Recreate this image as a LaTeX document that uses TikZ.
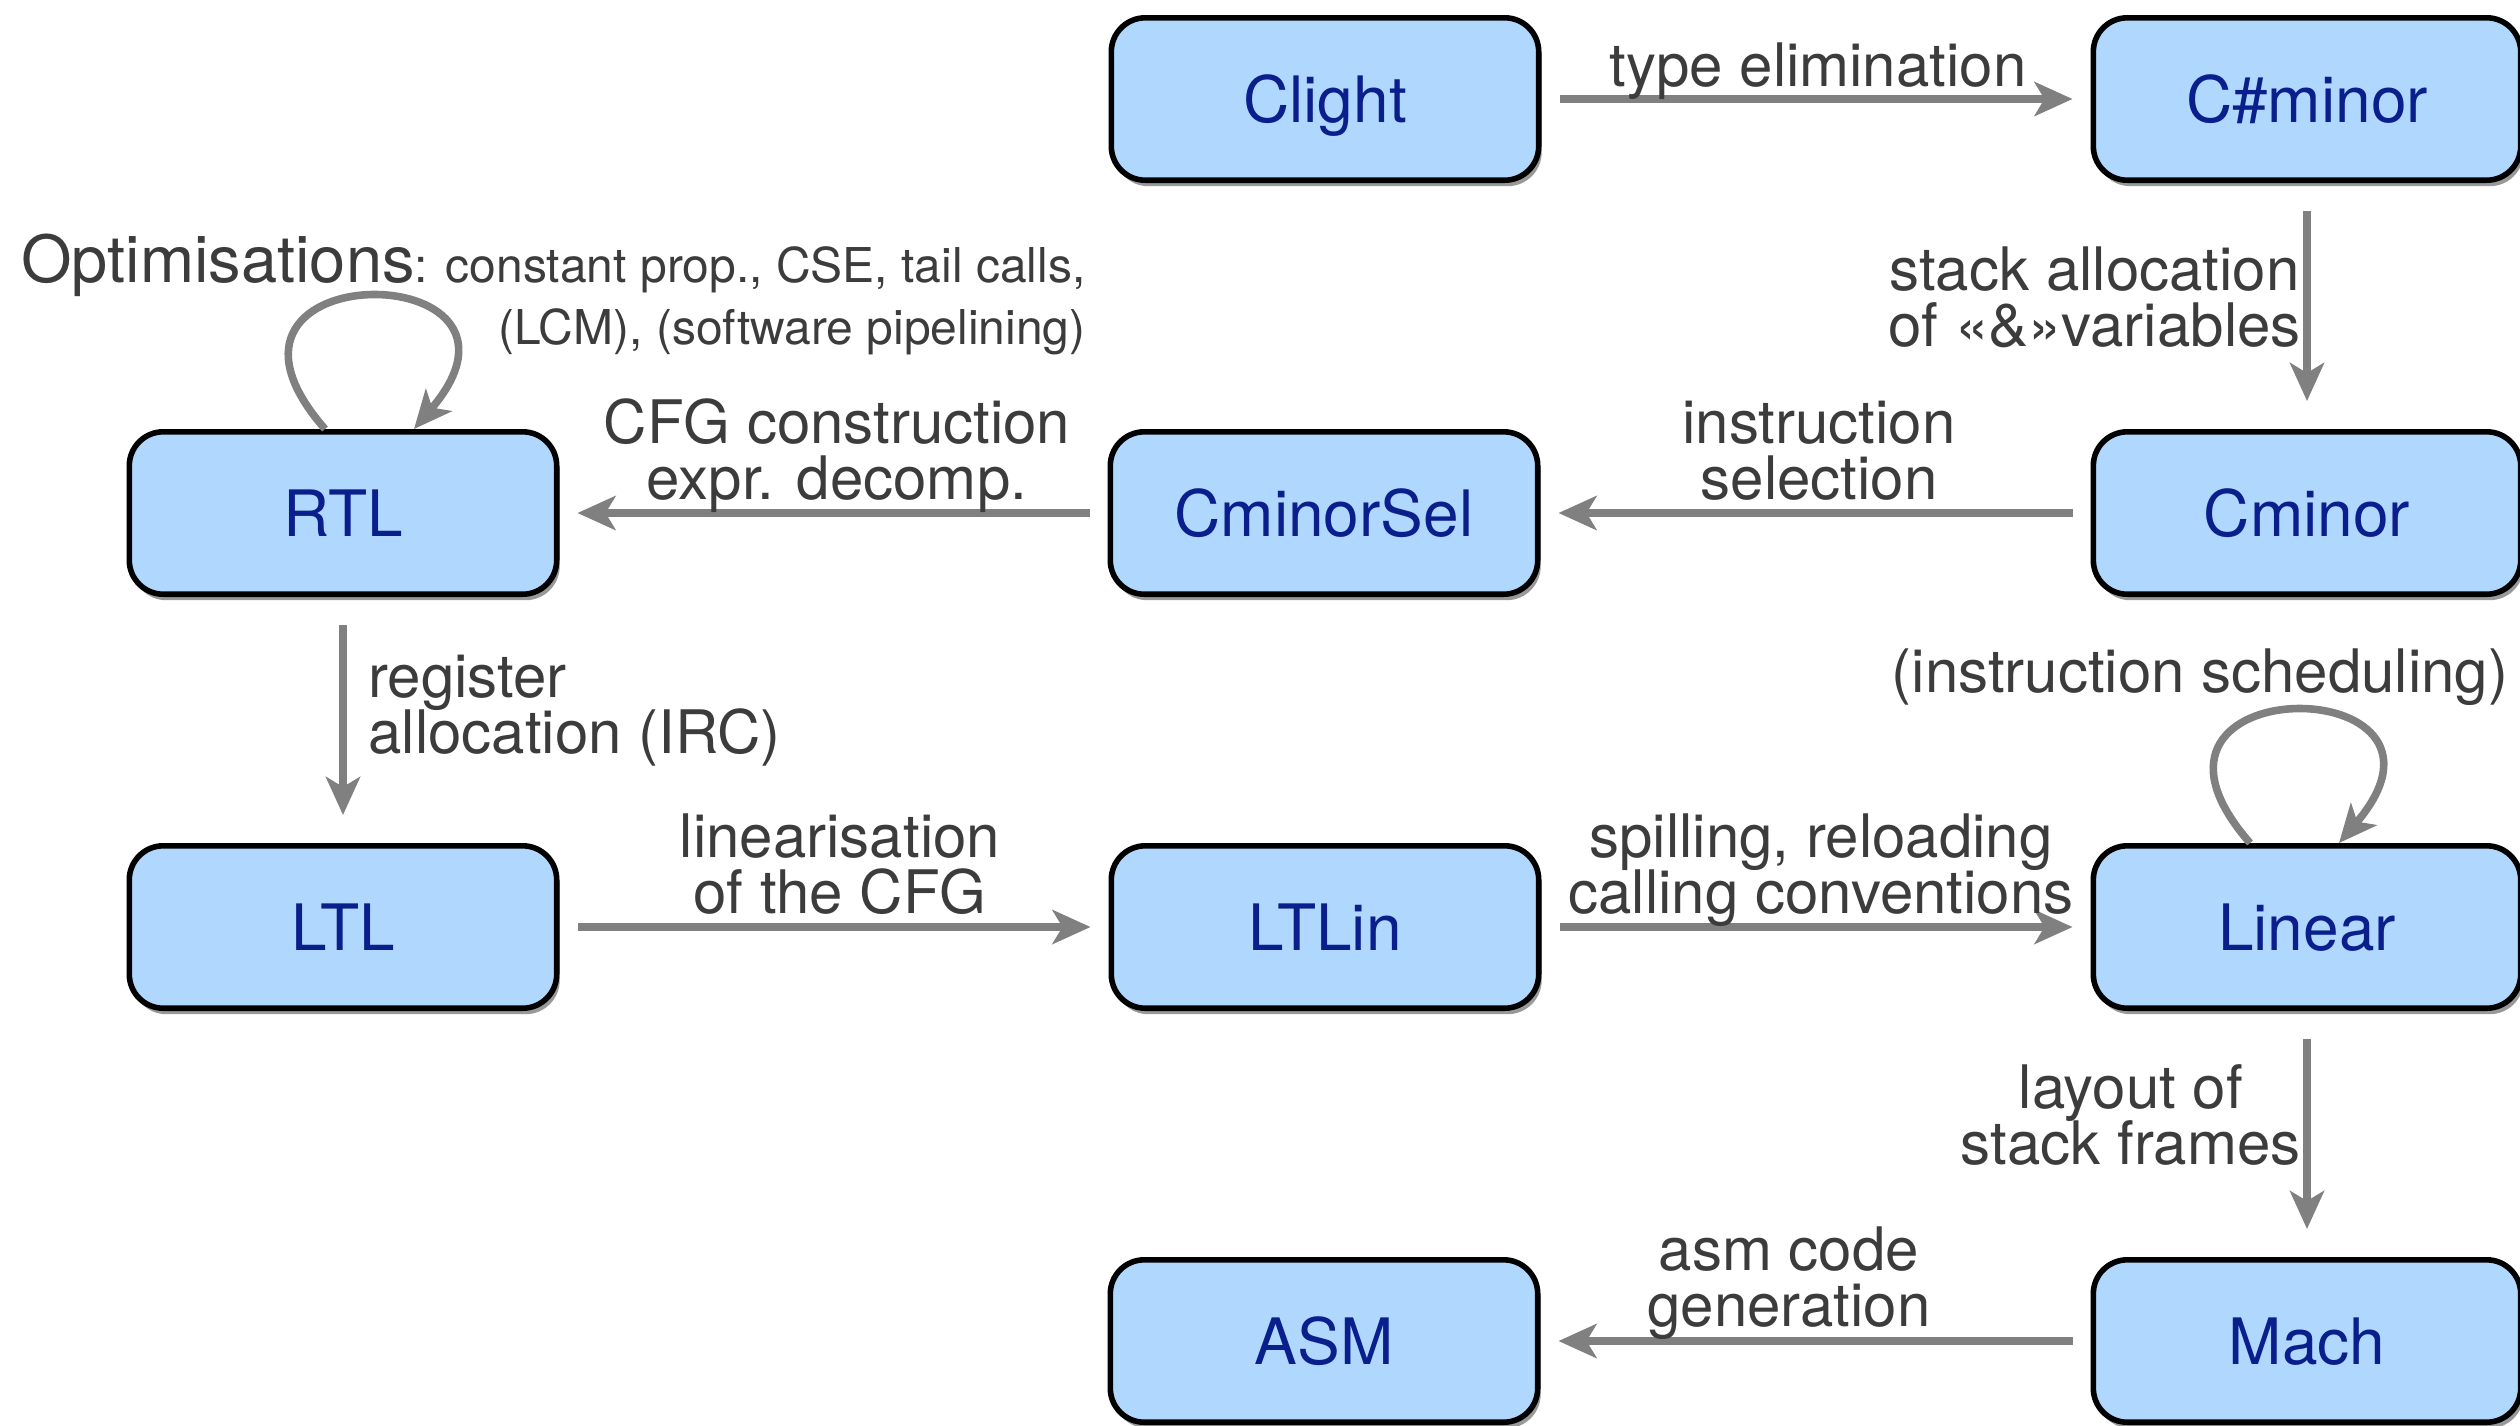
\documentclass[tikz,border=0pt]{standalone}
\usepackage{fontspec}
\setmainfont{TeX Gyre Heros}
\usetikzlibrary{arrows.meta,shadows,calc}
\definecolor{boxfill}{RGB}{176,216,255}
\definecolor{boxtext}{RGB}{10,30,140}
\definecolor{arrowgray}{RGB}{128,128,128}
\definecolor{labgray}{RGB}{60,60,60}
\newcommand\dn{\rule[-9pt]{0pt}{9pt}}
\begin{document}
\setlength{\lineskiplimit}{-50pt}
\begin{tikzpicture}[x=0.5pt,y=-0.5pt]
\tikzset{
  stage/.style={draw=black, line width=2.8pt, fill=boxfill, rounded corners=17pt,
    minimum width=213.7pt, minimum height=81.2pt, text=boxtext,
    font=\fontsize{32}{38}\selectfont, text height=23pt, text depth=0pt,
    drop shadow={shadow xshift=1.5pt, shadow yshift=-3pt, opacity=0.4, fill=black}},
  flow/.style={draw=arrowgray, line width=3.8pt, -{Stealth[length=19pt,width=17pt,inset=5pt]}},
  hflow/.style={flow, shorten <=9pt, shorten >=9pt},
  vflow/.style={flow, shorten <=14pt, shorten >=14pt},
  lab/.style={text=labgray, inner sep=0pt, align=center,
    font={\fontsize{30}{28}\selectfont}},
}
\useasboundingbox (0,0) rectangle (2520,1425);
\fill[white] (0,0) rectangle (2520,1425);

% stages
\node[stage] (clight)    at (1325,99)   {Clight};
\node[stage] (csharp)    at (2307,99)   {C\#minor};
\node[stage] (rtl)       at (343,513)   {RTL};
\node[stage] (cminorsel) at (1324,513)  {CminorSel};
\node[stage] (cminor)    at (2307,513)  {Cminor};
\node[stage] (ltl)       at (343,927)   {LTL};
\node[stage] (ltlin)     at (1325,927)  {LTLin};
\node[stage] (linear)    at (2307,927)  {Linear};
\node[stage] (asm)       at (1324,1341) {ASM};
\node[stage] (mach)      at (2307,1341) {Mach};

% passes
\draw[hflow] (clight) -- (csharp);
\draw[vflow] (csharp) -- (cminor);
\draw[hflow] (cminor) -- (cminorsel);
\draw[hflow] (cminorsel) -- (rtl);
\draw[vflow] (rtl) -- (ltl);
\draw[hflow] (ltl) -- (ltlin);
\draw[hflow] (ltlin) -- (linear);
\draw[vflow] (linear) -- (mach);
\draw[hflow] (mach) -- (asm);

% self loops
\draw[flow] ($(rtl.north)+(-18,0)$) .. controls +(-155,-177) and +(150,-175) .. ($(rtl.north)+(71,0)$);
\draw[flow] ($(linear.north)+(-57,0)$) .. controls +(-155,-177) and +(150,-175) .. ($(linear.north)+(32,0)$);

% labels
\node[lab, anchor=south] (l1) at (1818,105) {type elimination\dn};
\node[lab, anchor=south east] (l2) at (2301,365) {stack allocation\\of «\&»variables\dn};
\node[lab, anchor=south] (l3) at (1819,518) {instruction\\selection\dn};
\node[lab, anchor=south] (l4) at (837,518) {CFG construction\\expr. decomp.\dn};
\node[lab, anchor=south west, align=left] (l5) at (368,772) {register\\allocation (IRC)\dn};
\node[lab, anchor=south] (l6) at (840,932) {linearisation\\of the CFG\dn};
\node[lab, anchor=south] (l7) at (1821,932) {spilling, reloading\\calling conventions\dn};
\node[lab, anchor=south east] (l8) at (2301,1183) {layout of\\stack frames\dn};
\node[lab, anchor=south] (l9) at (1789,1345) {asm code\\generation\dn};
\node[lab, anchor=south] (l10) at (2200,711) {(instruction scheduling)\dn};
\node[lab, anchor=south east, align=right, font={\fontsize{24}{31}\selectfont}] (l11) at (1086,363)
  {{\fontsize{32.5}{31}\selectfont Optimisations}: constant prop., CSE, tail calls,\\(LCM), (software pipelining)\dn};
\end{tikzpicture}
\end{document}
